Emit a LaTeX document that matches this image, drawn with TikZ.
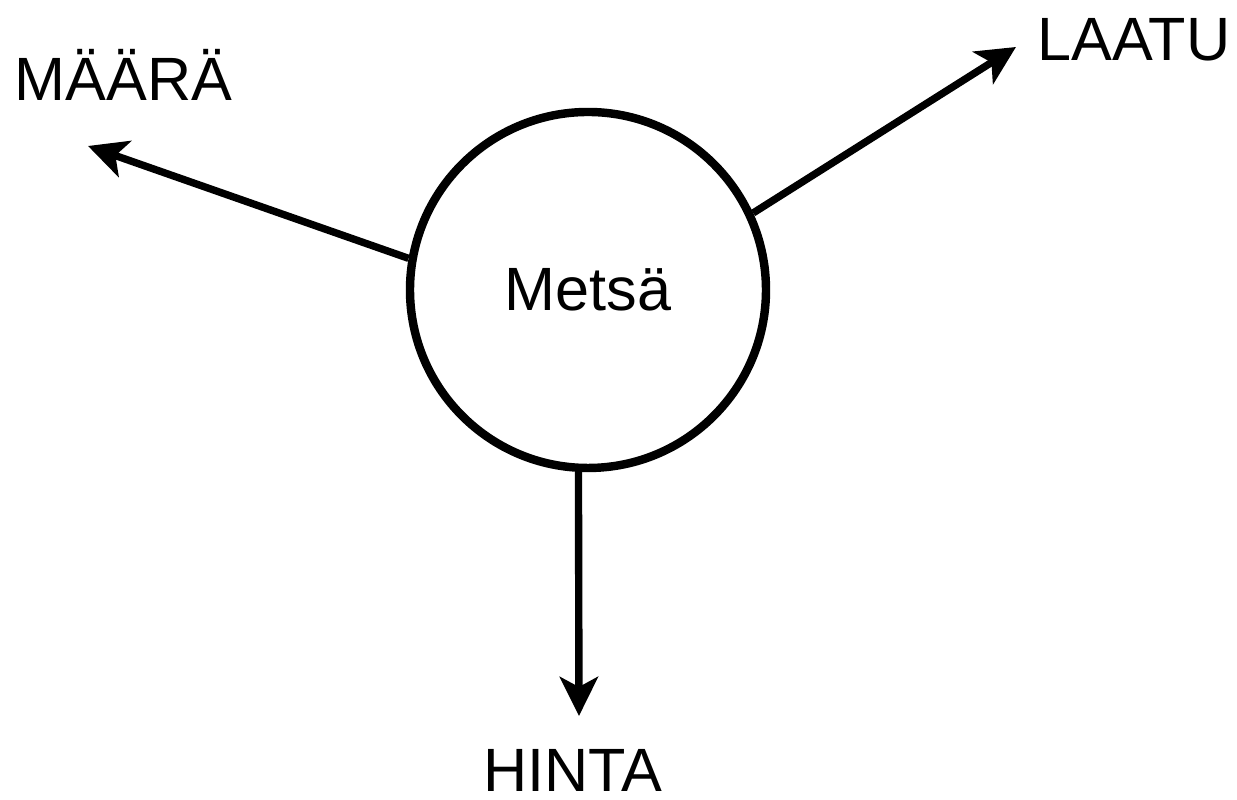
\documentclass[tikz,border=0pt]{standalone}
\usepackage{fontspec}
\setmainfont{Liberation Sans}
\usetikzlibrary{arrows.meta}

\begin{document}
\begin{tikzpicture}[font=\fontsize{17.4pt}{20pt}\selectfont,
  >={Stealth[length=0.39cm,width=0.38cm,inset=0.1cm]}]
% Picture size
\useasboundingbox (0,0) rectangle (12.37,8);

% The forest circle
\node [draw, circle, line width=2.4pt, minimum size=3.56cm, inner sep=0pt] (metsa) at (5.88,5.10) {Metsä};

% Label the arrows
\node [anchor=base] (maara) at (1.235,6.99) {MÄÄRÄ};
\node [anchor=base] (laatu) at (11.34,7.39) {LAATU};
\node [anchor=base] (hinta) at (5.725,0.08) {HINTA};

% Arrow tips
\coordinate (maaratip) at (0.88,6.54);
\coordinate (laatutip) at (10.16,7.53);
\coordinate (hintatip) at (5.79,0.84);

% Arrows out of the circle
\draw [->, line width=2.1pt] (metsa.170) -- (maaratip);
\draw [->, line width=2.1pt] (metsa.25) -- (laatutip);
\draw [->, line width=2.1pt] (metsa.267) -- (hintatip);
\end{tikzpicture}
\end{document}
